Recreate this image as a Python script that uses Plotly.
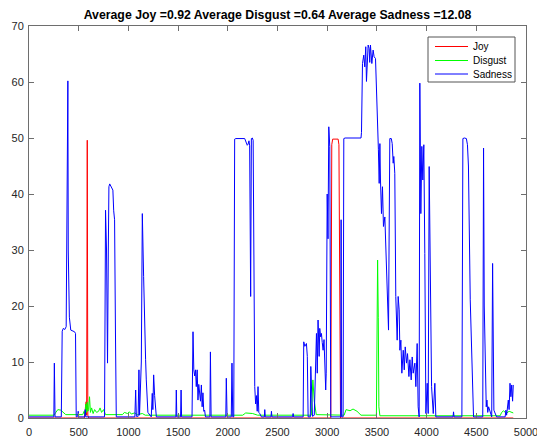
import plotly.graph_objects as go

# ---- Sadness (blue) ----
sad_x = [0, 250, 255, 262, 325, 334, 345, 360, 374, 384, 391, 395, 401, 406, 420, 440, 458, 468, 475,
         490, 495, 500, 560, 565, 572, 760, 770, 780, 790, 798, 804, 812, 830, 844, 852, 861, 870, 878,
         1065, 1073, 1080, 1098, 1106, 1112, 1130, 1140, 1153, 1163, 1173, 1180, 1196, 1230, 1240, 1246,
         1254, 1264, 1281, 1478, 1482, 1487, 1525, 1530, 1535, 1640, 1650, 1658, 1667, 1675, 1683, 1692,
         1700, 1708, 1717, 1725, 1734, 1742, 1750, 1758, 1767, 1775, 1820, 1825, 1832, 1980, 1985, 1993,
         2035, 2042, 2050, 2060, 2069, 2080, 2170, 2187, 2196, 2204, 2213, 2220, 2230, 2237, 2247, 2255,
         2261, 2266, 2271, 2280, 2288, 2296, 2304, 2312, 2321, 2338, 2368, 2372, 2377, 2435, 2439, 2444,
         2652, 2657, 2662, 2758, 2764, 2775, 2791, 2800, 2808, 2830, 2835, 2843, 2852, 2870, 2882, 2892,
         2900, 2908, 2919, 2925, 2934, 2942, 2950, 2959, 2968, 2976, 2985, 2990, 2993, 3000, 3008, 3016,
         3026, 3031, 3036, 3136, 3140, 3145, 3160, 3167, 3180, 3340, 3345, 3355, 3368, 3378, 3388, 3395,
         3403, 3412, 3422, 3428, 3435, 3449, 3462, 3472, 3486, 3503, 3515, 3523, 3530, 3536, 3546, 3556,
         3566, 3580, 3590, 3603, 3617, 3622, 3630, 3645, 3654, 3664, 3670, 3680, 3690, 3704, 3714, 3724,
         3731, 3741, 3751, 3765, 3775, 3785, 3798, 3808, 3822, 3832, 3845, 3855, 3865, 3882, 3892, 3905,
         3915, 3925, 3932, 3942, 3952, 3962, 3972, 3982, 3993, 4006, 4016, 4026, 4040, 4050, 4067, 4083,
         4093, 4266, 4271, 4276, 4355, 4365, 4380, 4400, 4411, 4421, 4439, 4456, 4472, 4565, 4573, 4580,
         4590, 4600, 4607, 4615, 4624, 4655, 4664, 4670, 4677, 4704, 4790, 4798, 4805, 4822, 4830, 4839,
         4848, 4856, 4865, 4872]
sad_y = [0.2, 0.2, 9.8, 0.2, 0.2, 15.5, 16.0, 15.8, 16.3, 35.0, 60.2, 30.0, 22.9, 18.0, 15.7, 15.6, 15.4, 15.1, 0.2,
         0.3, 1.2, 0.2, 0.2, 1.5, 0.2, 0.2, 37.1, 30.0, 9.8, 30.0, 41.3, 41.8, 41.3, 40.7, 37.0, 35.4, 15.0, 0.2,
         0.2, 5.0, 0.3, 0.3, 8.6, 0.5, 10.0, 36.5, 25.3, 15.0, 10.4, 6.8, 1.0, 0.2, 4.4, 1.5,
         7.7, 4.0, 0.2, 0.2, 5.0, 0.2, 0.2, 5.0, 0.2, 0.2, 15.4, 8.6, 7.5, 8.6, 5.6, 8.6,
         3.2, 6.0, 4.8, 3.0, 5.9, 2.0, 4.5, 1.2, 1.4, 0.2, 0.2, 11.8, 0.2, 0.2, 7.1, 0.2,
         0.2, 9.8, 0.2, 0.2, 49.8, 49.9, 49.9, 49.3, 48.7, 48.9, 49.5, 48.6, 21.7, 49.9, 50.0, 49.6,
         30.0, 12.0, 5.6, 2.5, 4.0, 1.2, 5.6, 1.0, 0.8, 0.2, 0.2, 1.5, 0.2, 0.2, 1.2, 0.2,
         0.2, 0.8, 0.2, 0.2, 13.6, 12.8, 13.3, 11.0, 0.2, 0.2, 9.2, 5.0, 0.3, 0.5, 8.0, 15.1,
         8.0, 17.5, 11.0, 16.0, 14.5, 15.1, 13.5, 12.1, 14.0, 9.0, 5.0, 8.0, 30.0, 40.0, 32.0, 52.0,
         48.5, 20.0, 0.2, 0.2, 35.4, 0.2, 0.2, 49.9, 50.0, 50.0, 51.0, 63.3, 64.8, 62.7, 66.3, 60.1,
         64.0, 66.6, 66.0, 63.5, 66.6, 63.3, 65.7, 64.5, 64.2, 56.2, 48.0, 41.9, 49.0, 42.5, 36.5, 41.3,
         34.2, 35.9, 31.2, 21.7, 15.7, 30.0, 49.9, 49.9, 49.0, 45.5, 46.7, 43.7, 21.7, 13.9, 21.7, 19.3,
         12.1, 13.9, 8.0, 12.1, 8.6, 12.7, 9.8, 11.5, 7.4, 10.4, 6.8, 10.9, 8.0, 9.8, 5.6, 13.3,
         2.0, 0.2, 59.8, 36.5, 48.5, 42.5, 48.8, 29.4, 0.8, 6.2, 0.8, 44.9, 23.5, 5.6, 0.8, 6.2,
         0.2, 0.2, 1.1, 0.2, 0.2, 49.9, 50.0, 49.9, 48.8, 45.0, 21.1, 11.5, 0.2, 0.2, 48.2, 20.0,
         5.6, 2.0, 3.2, 1.0, 2.0, 0.2, 27.6, 5.0, 1.4, 0.2, 0.2, 1.4, 0.5, 3.2, 1.5, 6.2,
         3.8, 5.9, 3.0, 5.9]

# ---- Joy (red) ----
joy_x = [0, 560, 568, 575, 580, 586, 592, 600, 3036, 3040, 3046, 3055, 3110, 3118, 3124, 3134, 4872]
joy_y = [0, 0, 2.0, 2.9, 0.5, 49.6, 0.5, 0, 0, 30.0, 48.8, 49.8, 49.8, 48.8, 30.0, 0, 0]

# ---- Disgust (green) ----
dis_x = [0, 250, 270, 290, 320, 350, 370, 540, 555, 565, 572, 578, 585, 592, 600, 609, 618, 630,
         645, 660, 680, 700, 715, 730, 750, 770, 940, 960, 990, 1010, 1030, 1060, 1090, 1140, 1170,
         2150, 2180, 2250, 2300, 2840, 2848, 2856, 2870, 2890, 3170, 3190, 3230, 3260, 3300, 3340,
         3495, 3500, 3507, 3514, 3520, 3530, 4740, 4755, 4775, 4800, 4830, 4872]
dis_y = [0.5, 0.5, 1.0, 1.5, 1.4, 0.9, 0.6, 0.6, 1.2, 0.5, 2.5, 1.0, 2.8, 1.2, 1.5, 3.8, 1.0, 1.8,
         0.8, 1.5, 1.0, 1.2, 1.8, 1.0, 1.5, 0.6, 0.6, 1.0, 0.8, 1.1, 0.7, 0.9, 0.6, 0.8, 0.5,
         0.5, 0.9, 0.8, 0.5, 0.5, 3.0, 6.8, 3.0, 0.6, 0.5, 1.5, 1.3, 1.6, 1.2, 0.5,
         0.5, 8.0, 28.2, 18.0, 2.0, 0.4, 0.4, 1.0, 1.3, 0.8, 1.2, 0.9]

series_names = ["Joy", "Disgust", "Sadness"]
series_colors = ["#FF0000", "#00FF00", "#0000FF"]
x_ticks = [0, 500, 1000, 1500, 2000, 2500, 3000, 3500, 4000, 4500, 5000]
y_ticks = [0, 10, 20, 30, 40, 50, 60, 70]
title_text = "Average Joy =0.92 Average Disgust =0.64 Average Sadness =12.08"

W, H = 537, 438
ML, MR, MT, MB = 29, 11, 26, 20
PW, PH = W - ML - MR, H - MT - MB


def px_x(p):
    return (p - ML) / PW


def px_y(p):
    return (H - MB - p) / PH


fig = go.Figure()
for xs, ys, nm, col in zip([joy_x, dis_x, sad_x], [joy_y, dis_y, sad_y], series_names, series_colors):
    fig.add_trace(go.Scatter(x=xs, y=ys, mode="lines", name=nm,
                             line=dict(color=col, width=1), showlegend=False))

axis_common = dict(showline=True, mirror="ticks", linecolor="#6e6e6e", linewidth=1,
                   ticks="inside", ticklen=5, tickcolor="#6e6e6e", tickwidth=1,
                   showgrid=False, zeroline=False, ticklabeloverflow="allow", automargin=False,
                   tickfont=dict(family="Liberation Sans, Arial", size=11, color="#262626"))

# custom legend (MATLAB-style compact box)
shapes = [dict(type="rect", xref="paper", yref="paper",
               x0=px_x(428), x1=px_x(515), y0=px_y(82), y1=px_y(37),
               line=dict(color="#555555", width=1), fillcolor="white", layer="above")]
annotations = []
row_py = [46.5, 60.5, 74]
for nm, col, ry in zip(series_names, series_colors, row_py):
    shapes.append(dict(type="line", xref="paper", yref="paper",
                       x0=px_x(435), x1=px_x(468), y0=px_y(ry), y1=px_y(ry),
                       line=dict(color=col, width=1), layer="above"))
    annotations.append(dict(text=nm, xref="paper", yref="paper", x=px_x(471), y=px_y(ry),
                            xanchor="left", yanchor="middle", showarrow=False,
                            font=dict(family="Liberation Sans, Arial", size=10, color="#000000")))

fig.update_layout(
    width=W, height=H,
    margin=dict(l=ML, r=MR, t=MT, b=MB, autoexpand=False),
    paper_bgcolor="white", plot_bgcolor="white",
    title=dict(text=title_text, x=0.5, xref="paper", y=1 - 15 / H, yref="container",
               xanchor="center", yanchor="middle", automargin=False,
               font=dict(family="Liberation Sans, Arial", size=12.3, color="#000000", weight="bold")),
    xaxis=dict(range=[0, 5000], tickvals=x_ticks, ticktext=[str(v) for v in x_ticks],
               ticklabelstandoff=4, **axis_common),
    yaxis=dict(range=[0, 70], tickvals=y_ticks, ticktext=[str(v) for v in y_ticks],
               ticklabelstandoff=2, **axis_common),
    shapes=shapes,
    annotations=annotations,
    showlegend=False,
)

fig.write_html("out.html")
